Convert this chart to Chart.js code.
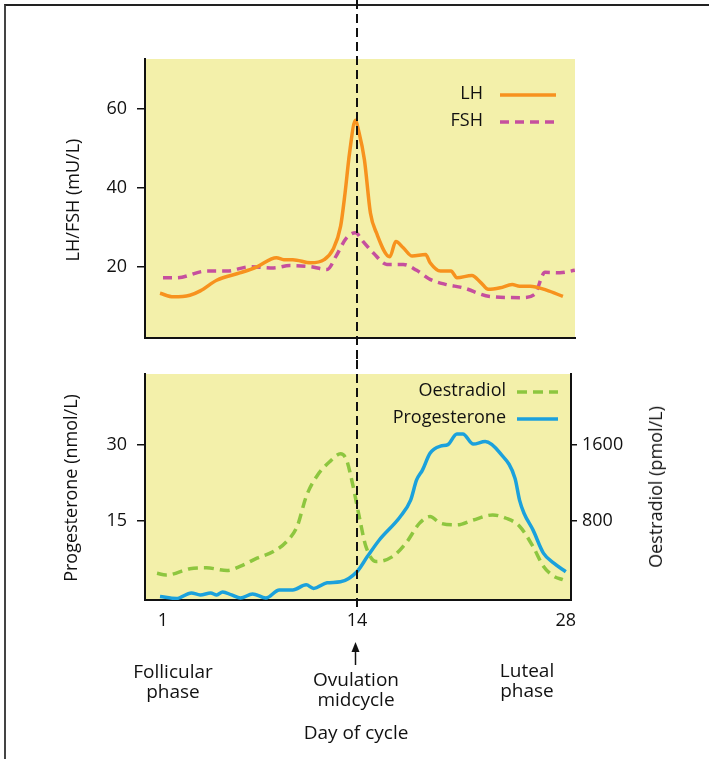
<!DOCTYPE html>
<html>
<head>
<meta charset="utf-8">
<script src="https://cdn.jsdelivr.net/npm/chart.js@4.4.1/dist/chart.umd.min.js"></script>
<style>
html,body{margin:0;padding:0;background:#fff;}
#wrap{position:relative;width:709px;height:759px;overflow:hidden;font-family:'Open Sans',sans-serif;color:#111;background:#fff;}
#frame{position:absolute;left:4px;top:4px;width:710px;height:760px;border-top:2px solid #222;border-left:2px solid #444;box-sizing:border-box;}
#c1{position:absolute;left:0;top:0;}
#c2{position:absolute;left:0;top:360px;}
.lbl{position:absolute;font-size:19px;line-height:20px;text-align:center;white-space:nowrap;transform:translateX(-50%);}
.ttl{position:absolute;font-size:18px;line-height:20px;white-space:nowrap;transform:translate(-50%,-50%) rotate(-90deg);}
svg{position:absolute;left:0;top:0;}
</style>
</head>
<body>
<div id="wrap">
  <div id="frame"></div>
  <canvas id="c1" width="709" height="360"></canvas>
  <canvas id="c2" width="709" height="399"></canvas>
  <div class="ttl" style="left:72px;top:200px;">LH/FSH (mU/L)</div>
  <div class="ttl" style="left:70px;top:488px;">Progesterone (nmol/L)</div>
  <div class="ttl" style="left:655px;top:487px;">Oestradiol (pmol/L)</div>
  <div class="lbl" style="left:173px;top:661px;">Follicular<br>phase</div>
  <div class="lbl" style="left:356px;top:669px;">Ovulation<br>midcycle</div>
  <div class="lbl" style="left:527px;top:660px;">Luteal<br>phase</div>
  <div class="lbl" style="left:356px;top:722px;">Day of cycle</div>
  <svg width="709" height="759" viewBox="0 0 709 759">
    <line x1="355.5" y1="650" x2="355.5" y2="665" stroke="#111" stroke-width="1.5"/>
    <polygon points="351.5,652 359.5,652 355.5,642" fill="#111"/>
  </svg>
</div>
<script>
// ---- data ----
const dayTicks = [1, 14, 28];
const lhFshTicks = [20, 40, 60];
const progTicks = [15, 30];
const oesTicks = [800, 1600];

const lhDay = [0.8,1.7,2.8,3.5,4.6,6.2,7.3,8.6,9.1,9.7,10.9,11.8,12.4,12.9,13.2,13.5,13.9,14.1,14.5,14.9,15.3,16.2,16.6,17.1,17.7,18.6,18.9,19.6,20.3,20.7,21.7,22.3,22.8,23.6,24.4,24.9,25.6,26.7,27.8];
const lhValue = [13.3,12.4,12.8,13.9,16.6,18.5,20,22.3,21.8,21.8,21,21.8,24.4,30.2,38.6,48.7,57,54.5,47,33.6,28.6,22.5,26.4,24.8,22.7,23.1,21,18.9,18.9,17.2,17.8,16,14.3,14.7,15.5,15.1,15.1,14.1,12.5];

const fshDay = [1,1.9,3.9,5.3,6.8,8.4,9.5,10.9,12,12.6,13.3,13.9,14.4,15.1,16,17.1,18,18.9,20,21.1,22.9,25.1,25.9,26.6,27.6,28.6];
const fshValue = [17.2,17.2,18.9,18.9,20,19.7,20.3,20,19.3,22.7,27.3,28.6,26.4,23.5,20.6,20.6,19.1,16.8,15.5,14.7,12.5,12.2,13,18.6,18.5,19.1];

const progDay = [0.8,1.9,2.9,3.5,4.2,4.6,5.0,5.6,6.2,7.0,7.9,8.8,9.7,10.6,11.1,12,12.9,14,14.7,15.5,16.9,17.6,18,18.4,18.9,19.6,20.1,20.7,21.1,21.8,22.6,23.6,24.6,24.9,25.2,25.8,26.5,27.2,28];
const progValue = [0,-0.4,0.7,0.3,0.7,0.3,0.9,0.3,-0.3,0.5,-0.3,1.3,1.3,2.3,1.6,2.7,2.9,4.9,7.9,11.2,15.8,19.1,23.1,25.1,28.4,29.8,30.1,32.2,32.2,30.2,30.7,28.4,23.4,19.1,16.5,13.2,8.6,6.6,4.9];

const oesDay = [0.6,1.2,2.8,3.9,5.3,6.2,7.3,8.4,9.3,10.0,10.6,11.3,12.2,12.9,13.3,13.7,14.2,14.6,15.3,16.4,17.3,18.2,18.9,19.6,20.7,21.8,23.1,24.0,24.9,25.8,26.5,27.2,27.8];
const oesValue = [245,226,293,303,275,320,405,475,583,743,1056,1269,1428,1508,1444,1197,809,529,369,423,567,775,845,775,757,809,862,827,743,529,320,214,178];

// ---- styling ----
const YELLOW = '#f3f0aa';
const INK = '#111';
const FONT = {family: "'Open Sans', sans-serif", size: 18};
const C_LH = '#f7921e', C_FSH = '#c64f9e', C_OES = '#8dc63f', C_PROG = '#1ba1dc';

const pts = (xs, ys) => xs.map((x, i) => ({x, y: ys[i]}));
const plain = v => String(v);

function bgPlugin() {
  return {id: 'bg', beforeDraw(chart) {
    const {ctx, chartArea: a} = chart;
    ctx.save(); ctx.fillStyle = YELLOW;
    ctx.fillRect(a.left, a.top, a.right - a.left, a.bottom - a.top);
    ctx.restore();
  }};
}
function ovPlugin(y0, extra) {
  return {id: 'ov', afterDatasetsDraw(chart) {
    const {ctx} = chart;
    const x = Math.round(chart.scales.x.getPixelForValue(14));
    const y1 = extra == null ? chart.height : chart.chartArea.bottom + extra;
    ctx.save(); ctx.setLineDash([9, 5]); ctx.lineWidth = 2; ctx.strokeStyle = INK;
    ctx.beginPath(); ctx.moveTo(x, y0); ctx.lineTo(x, y1); ctx.stroke(); ctx.restore();
  }};
}
function legendPlugin(textRight, lineStart, lineEnd, rows) {
  return {id: 'lg', afterDraw(chart) {
    const {ctx, chartArea: a} = chart;
    ctx.save();
    ctx.font = "18px 'Open Sans', sans-serif";
    ctx.textAlign = 'right'; ctx.textBaseline = 'middle'; ctx.fillStyle = INK;
    rows.forEach(r => {
      const y = a.top + r.dy;
      ctx.fillText(r.label, a.right - textRight, y);
      ctx.strokeStyle = r.color; ctx.lineWidth = 3.5; ctx.setLineDash(r.dash || []);
      ctx.beginPath(); ctx.moveTo(a.right - lineStart, y + 1); ctx.lineTo(a.right - lineEnd, y + 1); ctx.stroke();
    });
    ctx.restore();
  }};
}
function fixWidth(w) {
  return s => { s.width = w; s.paddingTop = 0; s.paddingBottom = 0; };
}

const yAxisCommon = {
  ticks: {color: INK, font: FONT, padding: 10, callback: plain},
  grid: {drawOnChartArea: false, tickLength: 8, color: INK, lineWidth: 1.5},
  border: {color: INK, width: 2}
};

// ---- top chart: LH / FSH ----
new Chart(document.getElementById('c1'), {
  type: 'line',
  data: {datasets: [
    {label: 'LH', data: pts(lhDay, lhValue), borderColor: C_LH, borderWidth: 3.5, pointRadius: 0, cubicInterpolationMode: 'monotone', fill: false},
    {label: 'FSH', data: pts(fshDay, fshValue), borderColor: C_FSH, borderWidth: 3.5, borderDash: [9, 6], pointRadius: 0, cubicInterpolationMode: 'monotone', fill: false}
  ]},
  options: {
    responsive: false, animation: false, events: [],
    layout: {padding: {left: 0, top: 59, right: 134, bottom: 0}},
    plugins: {legend: {display: false}, tooltip: {enabled: false}},
    scales: {
      x: {type: 'linear', min: -0.206, max: 28.61,
          ticks: {display: false}, grid: {display: false, drawTicks: false},
          border: {display: true, color: INK, width: 2},
          afterFit(s) { s.height = 22; s.paddingLeft = 0; s.paddingRight = 0; }},
      y: Object.assign({}, yAxisCommon, {
          position: 'left', min: 2, max: 72.5,
          afterBuildTicks(s) { s.ticks = lhFshTicks.map(v => ({value: v})); },
          afterFit: fixWidth(145)})
    }
  },
  plugins: [bgPlugin(), ovPlugin(0, null), legendPlugin(92, 75, 19, [
    {label: 'LH', color: C_LH, dy: 35},
    {label: 'FSH', color: C_FSH, dash: [9, 6], dy: 62}
  ])]
});

// ---- bottom chart: Oestradiol / Progesterone ----
new Chart(document.getElementById('c2'), {
  type: 'line',
  data: {datasets: [
    {label: 'Oestradiol', data: pts(oesDay, oesValue), yAxisID: 'y2', borderColor: C_OES, borderWidth: 3.5, borderDash: [10, 6], pointRadius: 0, cubicInterpolationMode: 'monotone', fill: false},
    {label: 'Progesterone', data: pts(progDay, progValue), yAxisID: 'y', borderColor: C_PROG, borderWidth: 3.5, pointRadius: 0, cubicInterpolationMode: 'monotone', fill: false}
  ]},
  options: {
    responsive: false, animation: false, events: [],
    layout: {padding: {left: 0, top: 14, right: 0, bottom: 0}},
    plugins: {legend: {display: false}, tooltip: {enabled: false}},
    scales: {
      x: {type: 'linear', min: -0.206, max: 28.35,
          afterBuildTicks(s) { s.ticks = dayTicks.map(v => ({value: v})); },
          ticks: {color: INK, font: FONT, padding: 10, maxRotation: 0, callback: plain},
          grid: {display: false, drawTicks: false},
          border: {display: true, color: INK, width: 2},
          afterFit(s) { s.height = 159; s.paddingLeft = 0; s.paddingRight = 0; }},
      y: Object.assign({}, yAxisCommon, {
          position: 'left', min: -0.7, max: 44.1,
          afterBuildTicks(s) { s.ticks = progTicks.map(v => ({value: v})); },
          afterFit: fixWidth(145)}),
      y2: {position: 'right', min: -37.3, max: 2352,
          ticks: {color: INK, font: FONT, padding: 5, callback: plain},
          grid: {drawOnChartArea: false, tickLength: 6, color: INK, lineWidth: 1.5},
          border: {color: INK, width: 2},
          afterBuildTicks(s) { s.ticks = oesTicks.map(v => ({value: v})); },
          afterFit: fixWidth(138)}
    }
  },
  plugins: [bgPlugin(), ovPlugin(0, 8), legendPlugin(65, 54, 13, [
    {label: 'Oestradiol', color: C_OES, dash: [10, 6], dy: 17},
    {label: 'Progesterone', color: C_PROG, dy: 44}
  ])]
});
</script>
</body>
</html>
